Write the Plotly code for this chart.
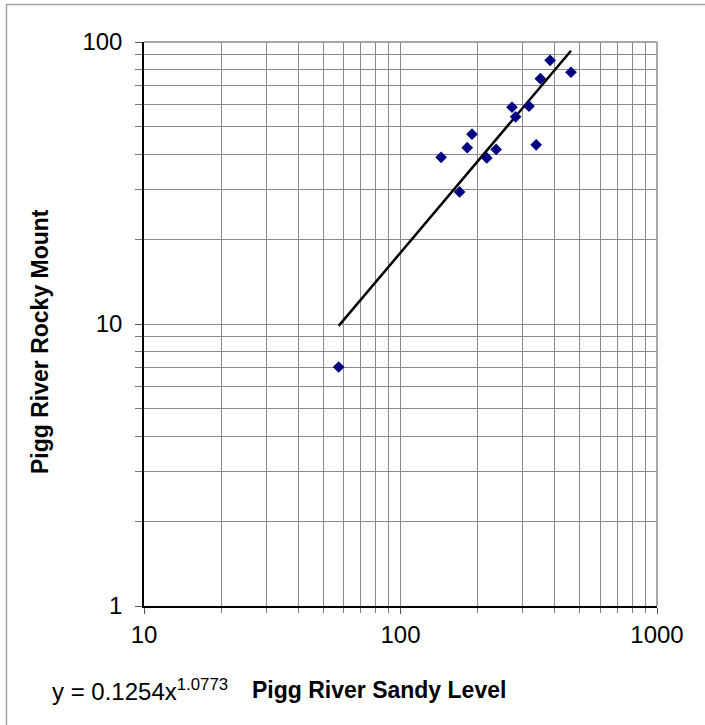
import numpy as np
import plotly.graph_objects as go

# Data
sandy_level = [383, 462, 351, 272, 317, 281, 190, 182, 236, 217, 338, 144, 170, 57.4]
rocky_mount = [86.1, 78.1, 74.1, 58.7, 59.2, 54.3, 47.1, 42.2, 41.6, 38.8, 43.2, 39.0, 29.4, 7.04]

# Power trendline coefficients (from the displayed equation)
coef_a = 0.1254
coef_b = 1.0773

x_tickvals = [10, 100, 1000]
y_tickvals = [1, 10, 100]
x_minor = [m * d for d in (10, 100) for m in range(2, 10)]
y_minor = [m * d for d in (1, 10) for m in range(2, 10)]

FONT = "Liberation Sans, Arial, sans-serif"

tx = np.geomspace(min(sandy_level), max(sandy_level), 50)
ty = coef_a * tx ** coef_b

fig = go.Figure()
fig.add_trace(go.Scatter(
    x=tx, y=ty, mode="lines",
    line=dict(color="black", width=2.5),
    hoverinfo="skip", showlegend=False))
fig.add_trace(go.Scatter(
    x=sandy_level, y=rocky_mount, mode="markers",
    marker=dict(symbol="diamond", color="#000080", size=9,
                line=dict(width=0)),
    showlegend=False))

grid_color = "#8c8c8c"
fig.update_xaxes(
    type="log", range=[1, 3],
    tickmode="array", tickvals=x_tickvals, ticktext=[str(v) for v in x_tickvals],
    showgrid=True, gridcolor=grid_color, gridwidth=1,
    ticks="outside", ticklen=6, tickcolor="#555", tickwidth=1,
    showline=True, linecolor="black", linewidth=1.5,
    minor=dict(tickmode="array", tickvals=x_minor, showgrid=True,
               gridcolor=grid_color, gridwidth=1, ticks="outside",
               ticklen=5, tickcolor="#777"),
    tickfont=dict(family=FONT, size=24, color="black"),
    ticklabelstandoff=0,
    zeroline=False,
)
fig.update_yaxes(
    type="log", range=[0, 2],
    tickmode="array", tickvals=y_tickvals, ticktext=[str(v) for v in y_tickvals],
    showgrid=True, gridcolor=grid_color, gridwidth=1,
    ticks="outside", ticklen=7, tickcolor="#555", tickwidth=1,
    showline=True, linecolor="black", linewidth=1.5,
    minor=dict(tickmode="array", tickvals=y_minor, showgrid=True,
               gridcolor=grid_color, gridwidth=1, ticks="outside",
               ticklen=7, tickcolor="#777"),
    tickfont=dict(family=FONT, size=24, color="black"),
    ticklabelstandoff=8,
    zeroline=False,
)

L, R, T, B = 144, 48, 42, 119
W, H = 705, 725
pw, ph = W - L - R, H - T - B


def px(x):
    return (x - L) / pw


def py(y):
    return (H - B - y) / ph


shapes = [
    dict(type="line", xref="paper", yref="paper", x0=0, x1=1, y0=1, y1=1,
         line=dict(color="#8c8c8c", width=1.5)),
    dict(type="line", xref="paper", yref="paper", x0=1, x1=1, y0=0, y1=1,
         line=dict(color="#8c8c8c", width=1.5)),
    dict(type="rect", xref="paper", yref="paper",
         x0=px(6.5), x1=px(760), y0=py(780), y1=py(4.5),
         line=dict(color="#a0a0a0", width=1.5), layer="below"),
]

annotations = [
    dict(text="y = 0.1254x<sup>1.0773</sup>", xref="paper", yref="paper",
         x=px(50), y=py(690), xanchor="left", yanchor="middle", showarrow=False,
         font=dict(family=FONT, size=24, color="black")),
    dict(text="<b>Pigg River Sandy Level</b>", xref="paper", yref="paper",
         x=px(250), y=py(690), xanchor="left", yanchor="middle", showarrow=False,
         font=dict(family=FONT, size=23, color="black")),
    dict(text="<b>Pigg River Rocky Mount</b>", xref="paper", yref="paper",
         x=px(40), y=py(342), xanchor="center", yanchor="middle", showarrow=False,
         textangle=-90,
         font=dict(family=FONT, size=23, color="black")),
]

fig.update_layout(
    width=W, height=H,
    margin=dict(l=L, r=R, t=T, b=B, pad=0),
    paper_bgcolor="white", plot_bgcolor="white",
    shapes=shapes, annotations=annotations,
    showlegend=False,
)

fig.write_html(
    "out.html",
    config={"displayModeBar": False},
    post_script="document.body.style.margin='0';document.body.style.overflow='hidden';",
)
